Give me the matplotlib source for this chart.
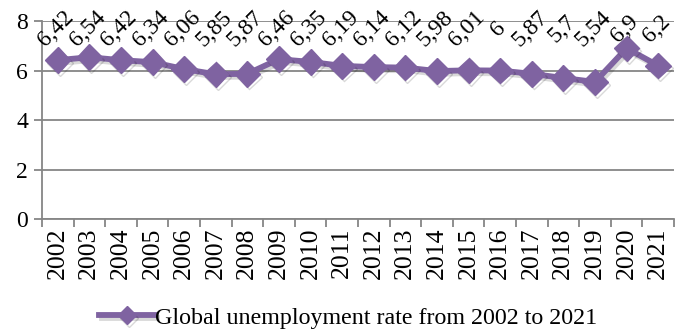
import numpy as np
import matplotlib
matplotlib.use('Agg')
import matplotlib.pyplot as plt
import matplotlib.patheffects as pe
import matplotlib.transforms as mtransforms

plt.rcParams['font.family'] = ['Liberation Serif', 'DejaVu Serif']

years = [str(y) for y in range(2002, 2022)]
rates = [6.42, 6.54, 6.42, 6.34, 6.06, 5.85, 5.87, 6.46, 6.35, 6.19,
         6.14, 6.12, 5.98, 6.01, 6, 5.87, 5.7, 5.54, 6.9, 6.2]
serie = 'Global unemployment rate from 2002 to 2021'

kolor = '#7F63A1'
szary = '#868686'

fig = plt.figure(figsize=(6.76, 3.29), dpi=100)
ax = fig.add_axes([0.062, 0.334, 0.935, 0.602])

x = np.arange(len(years))
cien = [pe.SimpleLineShadow(offset=(1.5, -2), shadow_color='black', alpha=0.15), pe.Normal()]
ax.plot(x, rates, color=kolor, lw=4.2, marker='D', markersize=13,
        label=serie, path_effects=cien, zorder=3)

# etykiety danych - w jednym rzędzie nad wykresem
trans = mtransforms.blended_transform_factory(ax.transData, ax.transAxes)
for xi, v in zip(x, rates):
    txt = f"{v:g}".replace('.', ',')
    ax.text(xi - 0.05, 0.96, txt, transform=trans, rotation=45,
            ha='center', va='center', fontsize=17,
            rotation_mode='anchor', zorder=4)

ax.set_ylim(0, 8)
ax.set_yticks([0, 2, 4, 6, 8])
ax.set_xlim(-0.5, len(years) - 0.5)
ax.set_xticks(x)
ax.set_xticklabels(years, rotation=90, fontsize=18.5)
ax.set_xticks(np.arange(-0.5, len(years)), minor=True)
ax.tick_params(axis='x', which='major', length=0, pad=6)
ax.tick_params(axis='x', which='minor', length=6, width=1.3, color=szary)
ax.tick_params(axis='y', length=6, width=1.3, color=szary, labelsize=17, pad=4)

ax.grid(axis='y', color=szary, lw=1.3)
ax.set_axisbelow(True)
for s in ['top', 'right']:
    ax.spines[s].set_visible(False)
for s in ['left', 'bottom']:
    ax.spines[s].set_color(szary)
    ax.spines[s].set_linewidth(1.3)

fig.legend(loc='lower center', bbox_to_anchor=(0.515, -0.05), frameon=False,
           fontsize=17.3, handlelength=2.3, handletextpad=0.0, borderpad=0.2,
           markerscale=0.7)

fig.savefig('out.png', dpi=100)
